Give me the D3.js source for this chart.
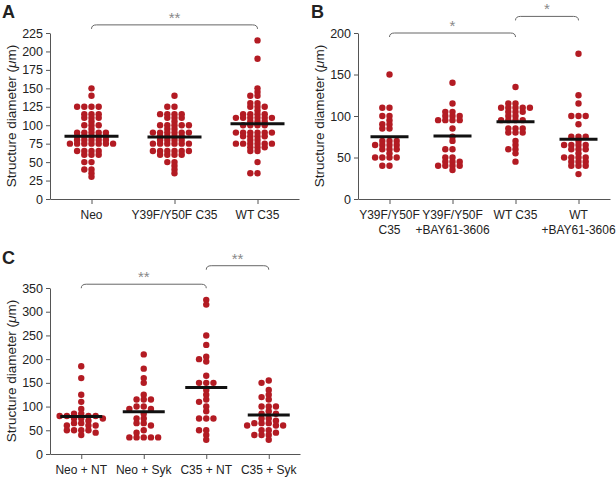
<!DOCTYPE html>
<html>
<head>
<meta charset="utf-8">
<script src="https://cdn.jsdelivr.net/npm/d3@7.9.0/dist/d3.min.js"></script>
<style>
  body { margin: 0; background: #fff; }
  svg text { font-family: "Liberation Sans", Arial, sans-serif; fill: #222; }
</style>
</head>
<body>
<svg id="chart" width="616" height="477"></svg>
<script>
// ---- Panel A data ----
const catsA = ["Neo", "Y39F/Y50F C35", "WT C35"];
const neoA = [150,140,125,125,125,125,115,115,115,110,110,110,105,100,100,100,95,90,90,90,90,90,85,85,85,85,85,80,80,80,80,80,75,75,75,75,75,75,75,65,65,65,65,60,60,60,50,50,40,40,35,30];
const mutA = [140,125,125,115,115,115,115,110,110,110,105,100,100,100,100,100,95,95,90,90,90,90,90,90,85,85,85,85,80,80,80,80,75,75,75,75,75,75,65,65,65,65,65,65,60,60,60,60,50,50,45,40,35];
const wtA = [215,190,150,145,140,140,130,130,125,125,125,120,115,115,115,115,110,110,110,110,110,110,105,105,105,100,100,100,100,90,90,90,90,90,90,85,85,85,85,80,80,75,75,75,75,75,75,70,70,70,65,65,50,35,35];
const meansA = [85, 84, 102];
const ticksA = [0,25,50,75,100,125,150,175,200,225];

// ---- Panel B data ----
const catsB = [["Y39F/Y50F", "C35"], ["Y39F/Y50F", "+BAY61-3606"], ["WT C35"], ["WT", "+BAY61-3606"]];
const mutB = [150,110,110,100,100,95,90,90,85,85,70,70,70,65,65,65,65,60,60,60,55,50,50,50,50,40,40];
const mutBayB = [140,115,105,105,100,100,100,95,95,95,95,85,75,70,60,60,50,50,45,45,45,40,40,40,40,35];
const wtB = [135,115,115,110,110,110,110,110,105,105,105,100,100,95,95,95,95,85,85,85,80,80,80,70,65,60,60,55,45];
const wtBayB = [175,125,115,100,100,100,90,75,75,75,70,65,65,65,65,60,60,60,55,50,50,50,50,45,45,45,40,40,40,30];
const meansB = [75, 76, 93, 72];
const ticksB = [0,50,100,150,200];

// ---- Panel C data ----
const catsC = ["Neo + NT", "Neo + Syk", "C35 + NT", "C35 + Syk"];
const neoNtC = [185,160,125,110,95,85,85,80,80,80,80,75,75,75,70,65,65,60,60,60,50,50,50,50,45,40];
const neoSykC = [210,180,160,150,125,115,115,115,100,100,95,95,85,75,75,65,65,60,50,45,35,35,35,35,35];
const c35NtC = [325,315,250,230,205,200,195,165,150,150,150,135,125,115,110,100,90,75,75,75,50,50,40,30];
const c35SykC = [155,150,135,125,120,115,100,100,100,90,85,85,75,75,70,65,65,65,60,60,60,50,50,45,40,40,40,30];
const meansC = [79, 89, 140, 82];
const ticksC = [0,50,100,150,200,250,300,350];

// significance brackets: [from index, to index, bracket height (data units), label]
const bracketsA = [[0, 2, 236, "**"]];
const bracketsB = [[0, 2, 200, "*"], [2, 3, 220, "*"]];
const bracketsC = [[0, 2, 358, "**"], [2, 3, 397, "**"]];

const svg = d3.select("#chart");
const dotColor = "#b31b23";
const axisColor = "#555";
const R = 3.2;      // dot radius
const SLOT = 7.2;   // horizontal step between dots in a row

// Prism-like dodge: each dot takes the nearest free slot around the column centre
function dodge(values, y) {
  const placed = [];
  return values.map(v => {
    const py = y(v);
    let k = 0;
    for (let i = 0; ; i++) {
      k = i === 0 ? 0 : (i % 2 ? -Math.ceil(i / 2) : Math.ceil(i / 2));
      if (!placed.some(p => p.k === k && Math.abs(p.y - py) < 3)) break;
    }
    placed.push({ k, y: py });
    return { v, dx: k * SLOT, y: py };
  });
}

function drawPanel(cfg) {
  const g = svg.append("g");
  const labels = cfg.cats.map(c => Array.isArray(c) ? c : [c]);
  const keys = labels.map(l => l.join(" "));

  const x = d3.scalePoint().domain(keys).range([cfg.left, cfg.right]).padding(0.5);
  const y = d3.scaleLinear().domain([0, cfg.ymax]).range([cfg.bottom, cfg.top]);

  // y axis
  const ya = g.append("g")
    .attr("transform", `translate(${cfg.left},0)`)
    .call(d3.axisLeft(y).tickValues(cfg.ticks).tickSize(4).tickSizeOuter(0).tickPadding(3));
  ya.select(".domain").attr("stroke", axisColor);
  ya.selectAll(".tick line").attr("stroke", axisColor);
  ya.selectAll(".tick text").attr("font-size", 12.5).attr("fill", "#222")
    .style("font-family", '"Liberation Sans", Arial, sans-serif');

  // x axis
  const xa = g.append("g")
    .attr("transform", `translate(0,${cfg.bottom})`)
    .call(d3.axisBottom(x).tickSize(5).tickSizeOuter(0).tickFormat(""));
  xa.select(".domain").attr("stroke", axisColor);
  xa.selectAll(".tick line").attr("stroke", axisColor);

  labels.forEach((lines, i) => {
    const t = g.append("text")
      .attr("x", x(keys[i]))
      .attr("y", cfg.bottom + 20)
      .attr("text-anchor", "middle")
      .attr("font-size", 12);
    lines.forEach((s, j) => {
      t.append("tspan").attr("x", x(keys[i])).attr("dy", j === 0 ? 0 : 15).text(s);
    });
  });

  // y title
  const yt = g.append("text")
    .attr("transform", `translate(${cfg.titleX},${(cfg.top + cfg.bottom) / 2}) rotate(-90)`)
    .attr("text-anchor", "middle")
    .attr("font-size", 13.5);
  yt.append("tspan").text("Structure diameter (");
  yt.append("tspan").attr("font-style", "italic").text("\u03bc");
  yt.append("tspan").text("m)");

  // panel letter
  g.append("text")
    .attr("x", cfg.letterX).attr("y", cfg.letterY)
    .attr("font-size", 18).attr("font-weight", "bold")
    .text(cfg.letter);

  // dots
  cfg.series.forEach((vals, i) => {
    const cx = x(keys[i]);
    g.append("g").selectAll("circle")
      .data(dodge(vals, y))
      .join("circle")
      .attr("cx", d => cx + d.dx)
      .attr("cy", d => d.y)
      .attr("r", R)
      .attr("fill", dotColor);
  });

  // mean lines
  g.append("g").selectAll("line")
    .data(cfg.means)
    .join("line")
    .attr("x1", (d, i) => x(keys[i]) - cfg.meanHalf)
    .attr("x2", (d, i) => x(keys[i]) + cfg.meanHalf)
    .attr("y1", d => y(d))
    .attr("y2", d => y(d))
    .attr("stroke", "#111")
    .attr("stroke-width", 3);

  // brackets
  cfg.brackets.forEach(([a, b, h, lab]) => {
    const x1 = x(keys[a]), x2 = x(keys[b]), by = y(h);
    g.append("path")
      .attr("d", `M${x1},${by + 4} Q${x1},${by} ${x1 + 5},${by} L${x2 - 5},${by} Q${x2},${by} ${x2},${by + 4}`)
      .attr("fill", "none")
      .attr("stroke", "#666")
      .attr("stroke-width", 1);
    g.append("text")
      .attr("x", (x1 + x2) / 2)
      .attr("y", by - 2)
      .attr("text-anchor", "middle")
      .attr("font-size", 15)
      .style("fill", "#888")
      .text(lab);
  });
}

drawPanel({
  letter: "A", letterX: 2, letterY: 18, titleX: 16,
  cats: catsA, series: [neoA, mutA, wtA], means: meansA, ticks: ticksA,
  ymax: 225, left: 50, right: 299, top: 33, bottom: 199, meanHalf: 27,
  brackets: bracketsA
});

drawPanel({
  letter: "B", letterX: 311, letterY: 18, titleX: 324,
  cats: catsB, series: [mutB, mutBayB, wtB, wtBayB], means: meansB, ticks: ticksB,
  ymax: 200, left: 358, right: 610, top: 33, bottom: 199, meanHalf: 19,
  brackets: bracketsB
});

drawPanel({
  letter: "C", letterX: 2, letterY: 264, titleX: 16,
  cats: catsC, series: [neoNtC, neoSykC, c35NtC, c35SykC], means: meansC, ticks: ticksC,
  ymax: 350, left: 50, right: 300, top: 288, bottom: 454, meanHalf: 21,
  brackets: bracketsC
});
</script>
</body>
</html>
